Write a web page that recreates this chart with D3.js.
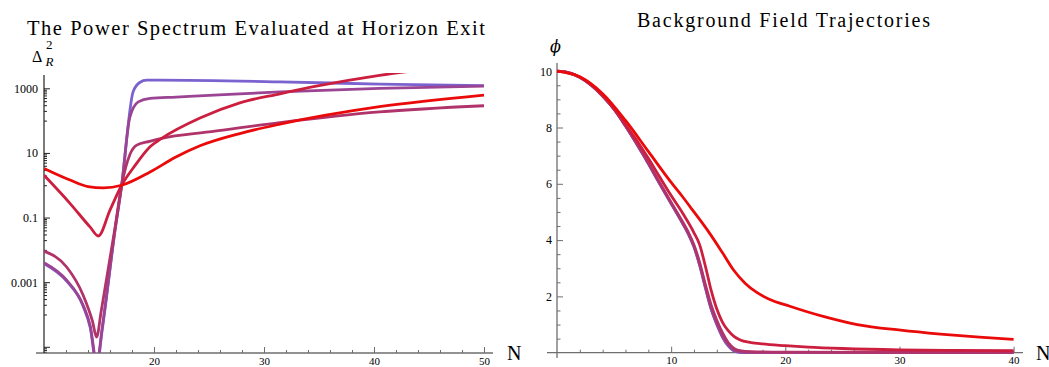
<!DOCTYPE html>
<html>
<head>
<meta charset="utf-8">
<script src="https://cdn.jsdelivr.net/npm/d3@7"></script>
<style>
  html, body { margin: 0; padding: 0; background: #fff; }
  svg { display: block; }
</style>
</head>
<body>
<svg id="chart" width="1049" height="367"></svg>
<script>
// ---------- Power spectrum Δ_R² at horizon exit: [N, value] per trajectory ----------
const spectrumBlue = [
  [10, 0.00372], [12.06, 0.00107], [13.57, 0.000178], [14.2, 3.98e-5], [14.8, 2.5e-6],
  [15.3, 3.55e-5], [16.45, 0.038], [17.06, 1.0], [18.1, 776], [18.7, 1514],
  [19.34, 1778], [20.5, 1778], [31.45, 1585], [40.5, 1349], [50, 1202]
];
const spectrumPurple = [
  [10, 0.00398], [12.06, 0.00115], [13.57, 0.00019], [14.2, 4.5e-5], [14.8, 3.2e-6],
  [15.3, 4.0e-5], [16.45, 0.0407], [17.06, 1.0], [17.8, 126], [18.57, 380],
  [19.64, 490], [22, 537], [25, 603], [31.45, 776], [40.5, 1000], [50, 1175]
];
const spectrumMagenta = [
  [10, 0.00912], [12.06, 0.00295], [13.57, 0.000389], [14.4, 6.3e-5], [14.78, 2.0e-5],
  [15.2, 1.26e-4], [16.45, 0.0468], [17.06, 1.0], [17.82, 9.1], [18.43, 17.4],
  [19.6, 22.9], [20.7, 28.2], [25, 44.7], [31.45, 87], [40.5, 186], [50, 288]
];
const spectrumCrimson = [
  [10, 2.04], [12.36, 0.275], [14.18, 0.0513], [14.94, 0.0269], [16.0, 0.17],
  [17.06, 1.0], [18.3, 4.17], [19.64, 15.5], [20.7, 28.2], [24.18, 120],
  [27.8, 355], [31.45, 676], [35, 1202], [40.5, 2512], [45, 3981]
];
const spectrumRed = [
  [10, 3.31], [12.36, 1.45], [14, 0.91], [15.4, 0.83], [17.06, 1.0],
  [19.64, 2.57], [21.9, 7.2], [24.18, 16.6], [27.8, 39.8], [31.45, 77.6],
  [40.5, 269], [50, 617]
];

// ---------- Background field φ(N): [N, φ] per trajectory ----------
const fieldBlue = [
  [0, 10], [1, 9.95], [2, 9.78], [3, 9.5], [4, 9.12], [5, 8.65], [6, 8.05], [7, 7.4],
  [8, 6.72], [9, 6.0], [10, 5.3], [11, 4.6], [11.5, 4.22], [12, 3.75], [12.5, 3.1],
  [13, 2.3], [13.5, 1.55], [14, 1.0], [14.5, 0.55], [15, 0.24], [15.5, 0.06],
  [16, 0.015], [17, 0.003], [20, 0], [40, 0]
];
const fieldPurple = [
  [0, 10], [1, 9.95], [2, 9.78], [3, 9.5], [4, 9.12], [5, 8.65], [6, 8.05], [7, 7.4],
  [8, 6.72], [9, 6.0], [10, 5.3], [11, 4.6], [11.5, 4.23], [12, 3.77], [12.5, 3.12],
  [13, 2.33], [13.5, 1.58], [14, 1.03], [14.5, 0.57], [15, 0.27], [15.5, 0.08],
  [16, 0.025], [17, 0.006], [20, 0.001], [40, 0]
];
const fieldMagenta = [
  [0, 10], [1, 9.95], [2, 9.78], [3, 9.5], [4, 9.12], [5, 8.66], [6, 8.07], [7, 7.43],
  [8, 6.75], [9, 6.04], [10, 5.34], [11, 4.65], [11.5, 4.28], [12, 3.83], [12.5, 3.2],
  [13, 2.42], [13.5, 1.7], [14, 1.15], [14.5, 0.7], [15, 0.36], [15.5, 0.15],
  [16, 0.07], [17, 0.035], [20, 0.02], [30, 0.012], [40, 0.01]
];
const fieldCrimson = [
  [0, 10], [2, 9.79], [4, 9.14], [6, 8.11], [8, 6.91], [9, 6.24], [10, 5.58],
  [11, 4.96], [12, 4.26], [12.5, 3.83], [13, 3.07], [13.5, 2.22], [14, 1.55],
  [14.5, 1.08], [15, 0.78], [15.5, 0.58], [16, 0.46], [17, 0.36], [18, 0.31],
  [20, 0.25], [22, 0.2], [25, 0.15], [30, 0.1], [35, 0.08], [40, 0.07]
];
const fieldRed = [
  [0, 10], [2, 9.8], [4, 9.2], [6, 8.25], [8, 7.15], [10, 6.05], [11, 5.54], [12, 5.0],
  [13.27, 4.3], [14.5, 3.55], [15.5, 2.92], [16.5, 2.46], [17.5, 2.14], [18.5, 1.92],
  [20.4, 1.65], [23.4, 1.28], [26.3, 1.0], [30.1, 0.8], [33.6, 0.66], [37, 0.55], [40, 0.47]
];

// ---------- Axis ticks and labels ----------
const spectrumMajorTicks = [1e-5, 1e-3, 1e-1, 1e1, 1e3];
const spectrumMajorLabels = ["", "0.001", "0.1", "10", "1000"];
const spectrumNTicks = [20, 30, 40, 50];
const fieldNTicks = [10, 20, 30, 40];
const fieldPhiTicks = [2, 4, 6, 8, 10];

const spectrumTitle = "The Power Spectrum Evaluated at Horizon Exit";
const fieldTitle = "Background Field Trajectories";

// ---------- Drawing ----------
const serif = "'Liberation Serif', 'Times New Roman', serif";
const axisGray = "#6e6e6e";
const lineColors = {
  blue: "#7a62cf", purple: "#9b4493", magenta: "#b0336a", crimson: "#cc1f40", red: "#ea0a0a"
};

const svg = d3.select("#chart");

// Left panel scales
const xL = d3.scaleLinear().domain([10, 50]).range([44, 484]);
const yL = d3.scaleLog().domain([1e-5, 1e3]).range([346.8, 88.3]);
// Right panel scales
const xR = d3.scaleLinear().domain([0, 40]).range([557, 1013.6]);
const yR = d3.scaleLinear().domain([0, 10]).range([352.7, 71.2]);

const defs = svg.append("defs");
defs.append("clipPath").attr("id", "clipL")
  .append("rect").attr("x", 44).attr("y", 73).attr("width", 450).attr("height", 280);
defs.append("clipPath").attr("id", "clipR")
  .append("rect").attr("x", 540).attr("y", 55).attr("width", 490).attr("height", 300);

function styleAxis(g, color, textColor, size) {
  g.attr("font-family", serif).attr("font-size", size || 12).attr("color", color);
  g.select(".domain").remove();
  g.selectAll("text").attr("fill", textColor);
}

// N-axis labels sit right at the bottom edge, baseline just above it
function placeBottomLabels(g) {
  g.selectAll("text").attr("dy", null).attr("y", 11.5);
}

// ---- Left: axes ----
const minorL = [];
spectrumMajorTicks.forEach(m => {
  for (let k = 1; k <= 9; k++) {
    const v = k * m / 10;
    if (yL(v) <= 353 && yL(v) >= 75) minorL.push(v);
  }
});
svg.append("g").attr("transform", "translate(44,0)")
  .call(d3.axisLeft(yL).tickValues(minorL).tickFormat("").tickSize(-3).tickSizeOuter(0))
  .call(g => styleAxis(g, "#222", "#000"));
svg.append("g").attr("transform", "translate(44,0)")
  .call(d3.axisLeft(yL).tickValues(spectrumMajorTicks)
    .tickFormat((d, i) => spectrumMajorLabels[i]).tickSize(-6).tickPadding(6).tickSizeOuter(0))
  .call(g => styleAxis(g, "#222", "#000"));

const minorNL = d3.range(12, 51, 2).filter(v => v % 10 !== 0);
svg.append("g").attr("transform", "translate(0,353)")
  .call(d3.axisBottom(xL).tickValues(minorNL).tickFormat("").tickSize(-3).tickSizeOuter(0))
  .call(g => styleAxis(g, axisGray, "#000"));
svg.append("g").attr("transform", "translate(0,353)")
  .call(d3.axisBottom(xL).tickValues(spectrumNTicks).tickFormat(d3.format("d")).tickSize(-6).tickSizeOuter(0))
  .call(g => styleAxis(g, axisGray, "#000", 11))
  .call(placeBottomLabels);

svg.append("line").attr("x1", 36).attr("x2", 493).attr("y1", 353).attr("y2", 353)
  .attr("stroke", axisGray).attr("stroke-width", 1.3);
svg.append("line").attr("x1", 44).attr("x2", 44).attr("y1", 75).attr("y2", 353)
  .attr("stroke", "#222").attr("stroke-width", 1.2);

// ---- Left: curves ----
const lineL = d3.line().x(d => xL(d[0])).y(d => yL(d[1])).curve(d3.curveMonotoneX);
const gL = svg.append("g").attr("clip-path", "url(#clipL)");
[
  [spectrumBlue, lineColors.blue],
  [spectrumPurple, lineColors.purple],
  [spectrumMagenta, lineColors.magenta],
  [spectrumCrimson, lineColors.crimson],
  [spectrumRed, lineColors.red]
].forEach(([data, color]) => {
  gL.append("path").datum(data).attr("d", lineL)
    .attr("fill", "none").attr("stroke", color).attr("stroke-width", 2.8)
    .attr("stroke-linejoin", "round").attr("stroke-linecap", "butt");
});

// ---- Right: axes ----
const minorPhi = d3.range(1, 21).map(i => i * 0.5).filter(v => v % 2 !== 0);
svg.append("g").attr("transform", "translate(557,0)")
  .call(d3.axisLeft(yR).tickValues(minorPhi).tickFormat("").tickSize(-3.5).tickSizeOuter(0))
  .call(g => styleAxis(g, axisGray, "#000"));
svg.append("g").attr("transform", "translate(557,0)")
  .call(d3.axisLeft(yR).tickValues(fieldPhiTicks).tickFormat(d3.format("d")).tickSize(-6).tickPadding(5).tickSizeOuter(0))
  .call(g => styleAxis(g, axisGray, "#000"));

const minorNR = d3.range(2, 41, 2).filter(v => v % 10 !== 0);
svg.append("g").attr("transform", "translate(0,352.7)")
  .call(d3.axisBottom(xR).tickValues(minorNR).tickFormat("").tickSize(-3).tickSizeOuter(0))
  .call(g => styleAxis(g, axisGray, "#000"));
svg.append("g").attr("transform", "translate(0,352.7)")
  .call(d3.axisBottom(xR).tickValues(fieldNTicks).tickFormat(d3.format("d")).tickSize(-6).tickSizeOuter(0))
  .call(g => styleAxis(g, axisGray, "#000", 11))
  .call(placeBottomLabels);

svg.append("line").attr("x1", 547).attr("x2", 1023).attr("y1", 352.7).attr("y2", 352.7)
  .attr("stroke", axisGray).attr("stroke-width", 1.3);
svg.append("line").attr("x1", 557).attr("x2", 557).attr("y1", 63).attr("y2", 358)
  .attr("stroke", axisGray).attr("stroke-width", 1.3);

// ---- Right: curves ----
const lineR = d3.line().x(d => xR(d[0])).y(d => yR(d[1])).curve(d3.curveMonotoneX);
const gR = svg.append("g").attr("clip-path", "url(#clipR)");
[
  [fieldBlue, lineColors.blue],
  [fieldPurple, lineColors.purple],
  [fieldMagenta, lineColors.magenta],
  [fieldCrimson, lineColors.crimson],
  [fieldRed, lineColors.red]
].forEach(([data, color]) => {
  gR.append("path").datum(data).attr("d", lineR)
    .attr("fill", "none").attr("stroke", color).attr("stroke-width", 2.8)
    .attr("stroke-linejoin", "round").attr("stroke-linecap", "butt");
});

// ---- Titles and axis labels ----
svg.append("text").attr("x", 27).attr("y", 35)
  .attr("font-family", serif).attr("font-size", 20.5).attr("fill", "#000")
  .attr("textLength", 458).attr("lengthAdjust", "spacing")
  .text(spectrumTitle);
svg.append("text").attr("x", 637).attr("y", 27)
  .attr("font-family", serif).attr("font-size", 20).attr("fill", "#000")
  .attr("textLength", 293).attr("lengthAdjust", "spacing")
  .text(fieldTitle);

// Δ_R^2
svg.append("text").attr("x", 32).attr("y", 62)
  .attr("font-family", serif).attr("font-size", 16).attr("fill", "#000").text("Δ");
svg.append("text").attr("x", 46).attr("y", 49)
  .attr("font-family", serif).attr("font-size", 13).attr("fill", "#000").text("2");
svg.append("text").attr("x", 45.5).attr("y", 66)
  .attr("font-family", serif).attr("font-size", 13).attr("font-style", "italic").attr("fill", "#000").text("R");

// φ
svg.append("text").attr("x", 550).attr("y", 52)
  .attr("font-family", "'DejaVu Serif', serif").attr("font-size", 16).attr("font-style", "italic")
  .attr("fill", "#000").text("ϕ");

// N
svg.append("text").attr("x", 507).attr("y", 360)
  .attr("font-family", serif).attr("font-size", 20).attr("fill", "#000").text("N");
svg.append("text").attr("x", 1036).attr("y", 360)
  .attr("font-family", serif).attr("font-size", 20).attr("fill", "#000").text("N");
</script>
</body>
</html>
